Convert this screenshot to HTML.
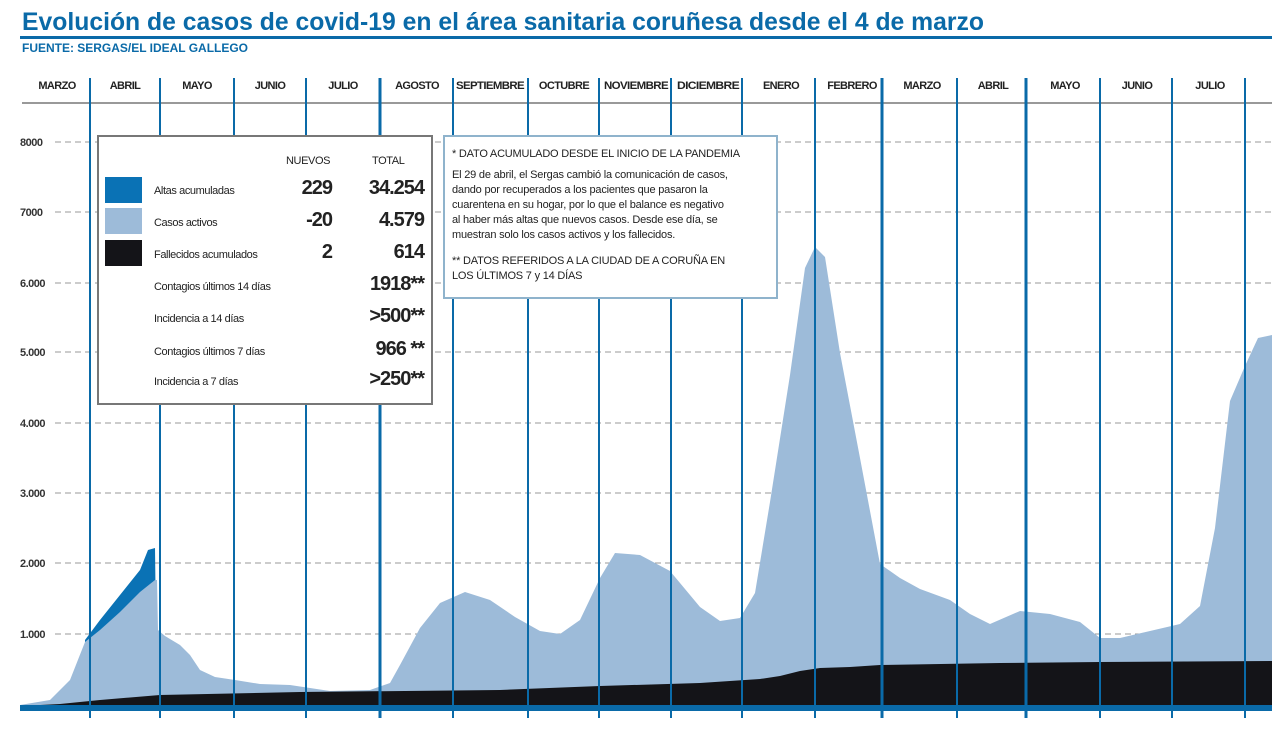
<!DOCTYPE html><html><head><meta charset="utf-8"><style>
body{margin:0;background:#fff;width:1280px;height:732px;overflow:hidden;font-family:"Liberation Sans",sans-serif}
svg text{font-family:"Liberation Sans",sans-serif}
</style></head><body>
<svg width="1280" height="732" viewBox="0 0 1280 732" xmlns="http://www.w3.org/2000/svg">
<text x="22" y="30" font-size="25" font-weight="bold" fill="#0a6aa8" textLength="962" lengthAdjust="spacingAndGlyphs">Evolución de casos de covid-19 en el área sanitaria coruñesa desde el 4 de marzo</text>
<rect x="20" y="36" width="1252" height="3" fill="#0a6aa8"/>
<text x="22" y="52" font-size="12" font-weight="bold" fill="#0a6aa8" textLength="226" lengthAdjust="spacingAndGlyphs">FUENTE: SERGAS/EL IDEAL GALLEGO</text>
<line x1="22" y1="103" x2="1272" y2="103" stroke="#333" stroke-width="1"/>
<g font-size="11" font-weight="bold" fill="#222" text-anchor="middle" letter-spacing="-0.6">
<text x="57" y="89">MARZO</text><text x="125" y="89">ABRIL</text><text x="197" y="89">MAYO</text><text x="270" y="89">JUNIO</text><text x="343" y="89">JULIO</text><text x="417" y="89">AGOSTO</text><text x="490" y="89" textLength="68" lengthAdjust="spacingAndGlyphs">SEPTIEMBRE</text><text x="564" y="89">OCTUBRE</text><text x="636" y="89" textLength="64" lengthAdjust="spacingAndGlyphs">NOVIEMBRE</text><text x="708" y="89" textLength="62" lengthAdjust="spacingAndGlyphs">DICIEMBRE</text><text x="781" y="89">ENERO</text><text x="852" y="89">FEBRERO</text><text x="922" y="89">MARZO</text><text x="993" y="89">ABRIL</text><text x="1065" y="89">MAYO</text><text x="1137" y="89">JUNIO</text><text x="1210" y="89">JULIO</text>
</g>
<g stroke="#999" stroke-dasharray="6,4" stroke-width="1">
<line x1="55" y1="142" x2="1272" y2="142"/><line x1="55" y1="212" x2="1272" y2="212"/><line x1="55" y1="283" x2="1272" y2="283"/><line x1="55" y1="352" x2="1272" y2="352"/><line x1="55" y1="423" x2="1272" y2="423"/><line x1="55" y1="493" x2="1272" y2="493"/><line x1="55" y1="563" x2="1272" y2="563"/><line x1="55" y1="634" x2="1272" y2="634"/>
</g>
<g font-size="11" font-weight="bold" fill="#333" letter-spacing="-0.5">
<text x="20" y="146">8000</text><text x="20" y="216">7000</text><text x="20" y="287">6.000</text><text x="20" y="356">5.000</text><text x="20" y="427">4.000</text><text x="20" y="497">3.000</text><text x="20" y="567">2.000</text><text x="20" y="638">1.000</text>
</g>
<polygon fill="#0a72b5" points="85,708 85,640 100,620 120,595 140,570 148,550 155,548 157,708"/>
<polygon fill="#9dbbd9" points="20,708 20,705 50,700 70,680 85,642 100,630 120,612 140,592 155,580 157,580 158,630 165,636 180,645 190,655 200,670 215,677 235,680 260,684 290,685 310,688 330,691 370,690 390,683 400,665 420,628 440,603 465,592 490,600 515,617 540,631 560,634 580,620 600,578 615,553 640,555 670,571 700,607 720,621 740,618 755,593 770,502 790,375 805,268 815,247 825,257 840,353 860,458 880,564 900,578 920,589 950,600 970,614 990,624 1020,611 1050,614 1080,622 1100,638 1120,638 1150,631 1180,624 1200,606 1215,528 1230,401 1245,366 1258,338 1272,335 1272,708"/>
<polygon fill="#141418" points="20,708 20,706 60,704 100,700 160,695 300,692 500,690 600,686 700,683 760,679 780,676 800,671 820,668 850,667 880,665 1000,663 1100,662 1272,661 1272,708"/>
<rect x="20" y="705" width="1252" height="6" fill="#0a6aa8"/>
<g stroke="#0a6aa8" stroke-width="2">
<line x1="90" y1="78" x2="90" y2="718"/><line x1="160" y1="78" x2="160" y2="718"/><line x1="234" y1="78" x2="234" y2="718"/><line x1="306" y1="78" x2="306" y2="718"/><line x1="380" y1="78" x2="380" y2="718" stroke-width="3"/><line x1="453" y1="78" x2="453" y2="718"/><line x1="528" y1="78" x2="528" y2="718"/><line x1="599" y1="78" x2="599" y2="718"/><line x1="671" y1="78" x2="671" y2="718"/><line x1="742" y1="78" x2="742" y2="718"/><line x1="815" y1="78" x2="815" y2="718"/><line x1="882" y1="78" x2="882" y2="718" stroke-width="3"/><line x1="957" y1="78" x2="957" y2="718"/><line x1="1026" y1="78" x2="1026" y2="718" stroke-width="3"/><line x1="1100" y1="78" x2="1100" y2="718"/><line x1="1172" y1="78" x2="1172" y2="718"/><line x1="1245" y1="78" x2="1245" y2="718"/>
</g>
<rect x="98" y="136" width="334" height="268" fill="#fff" stroke="#777" stroke-width="2"/>
<rect x="105" y="177" width="37" height="26" fill="#0a72b5"/><rect x="105" y="208" width="37" height="26" fill="#9dbbd9"/><rect x="105" y="240" width="37" height="26" fill="#141418"/>
<g font-size="11" fill="#222" letter-spacing="-0.4">
<text x="286" y="164">NUEVOS</text><text x="372" y="164">TOTAL</text>
<text x="154" y="194">Altas acumuladas</text><text x="154" y="226">Casos activos</text><text x="154" y="258">Fallecidos acumulados</text><text x="154" y="290">Contagios últimos 14 días</text><text x="154" y="322">Incidencia a 14 días</text><text x="154" y="355">Contagios últimos 7 días</text><text x="154" y="385">Incidencia a 7 días</text>
</g>
<g font-size="20" font-weight="bold" fill="#222" text-anchor="end" letter-spacing="-1">
<text x="332" y="194">229</text><text x="332" y="226">-20</text><text x="332" y="258">2</text>
<text x="424" y="194">34.254</text><text x="424" y="226">4.579</text><text x="424" y="258">614</text><text x="424" y="290">1918**</text><text x="424" y="322">&gt;500**</text><text x="424" y="355">966 **</text><text x="424" y="385">&gt;250**</text>
</g>
<rect x="444" y="136" width="333" height="162" fill="#fff" stroke="#8fb3cc" stroke-width="2"/>
<g font-size="11" fill="#222" letter-spacing="-0.2">
<text x="452" y="157">* DATO ACUMULADO DESDE EL INICIO DE LA PANDEMIA</text>
<text x="452" y="178">El 29 de abril, el Sergas cambió la comunicación de casos,</text>
<text x="452" y="193">dando por recuperados a los pacientes que pasaron la</text>
<text x="452" y="208">cuarentena en su hogar, por lo que el balance es negativo</text>
<text x="452" y="223">al haber más altas que nuevos casos. Desde ese día, se</text>
<text x="452" y="238">muestran solo los casos activos y los fallecidos.</text>
<text x="452" y="264">** DATOS REFERIDOS A LA CIUDAD DE A CORUÑA EN</text>
<text x="452" y="279">LOS ÚLTIMOS 7 y 14 DÍAS</text>
</g>
</svg>
</body></html>
